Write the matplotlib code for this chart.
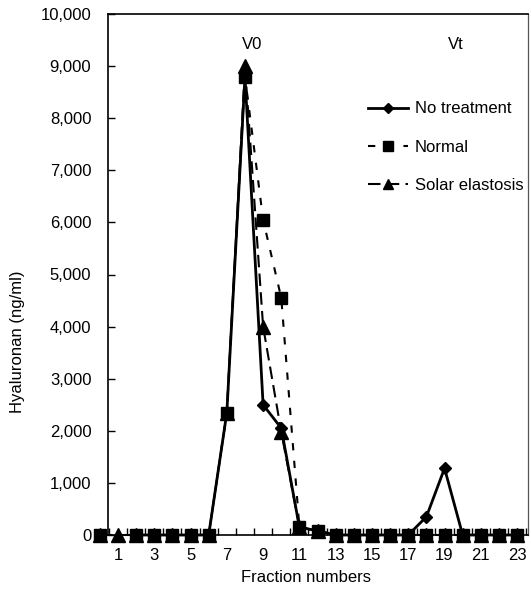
import matplotlib
matplotlib.use("Agg")
import matplotlib.pyplot as plt
import numpy as np
from matplotlib.ticker import FuncFormatter

# fraction numbers 0..23 (ng/ml)
fractions = list(range(0, 24))
no_treatment = [0, np.nan, 0, 0, 0, 0, 0, 2350, 8800, 2500, 2050, 150, 80,
                0, 0, 0, 0, 0, 350, 1280, 0, 0, 0, 0]
normal = [0, np.nan, 0, 0, 0, 0, 0, 2350, 8800, 6050, 4550, 150, 80,
          0, 0, 0, 0, 0, 0, 0, 0, 0, 0, 0]
solar_elastosis = [0, 0, 0, 0, 0, 0, 0, 2350, 9000, 4000, 1980, 150, 80,
                   0, 0, 0, 0, 0, 0, 0, 0, 0, 0, 0]
label_fractions = list(range(1, 24, 2))
y_ticks = list(range(0, 10001, 1000))

plt.rcParams["font.family"] = ["Liberation Sans", "DejaVu Sans"]
plt.rcParams["font.size"] = 12

W, H = 531, 590
fig = plt.figure(figsize=(W / 100, H / 100), dpi=100)
ax = fig.add_axes([108 / W, 1 - 535 / H, (528 - 108) / W, (535 - 14) / H])

ax.plot(fractions, no_treatment, color="black", lw=2, marker="D",
        markersize=6.5, label="No treatment", clip_on=False, zorder=3)
ax.plot(fractions, normal, color="black", lw=1.5, ls=(0, (3.5, 5)), marker="s",
        markersize=9, label="Normal", clip_on=False, zorder=3)
ax.plot(fractions, solar_elastosis, color="black", lw=1.5, ls=(0, (6, 3)),
        marker="^", markersize=9.5, label="Solar elastosis", clip_on=False, zorder=3)

ax.set_xlim(0.45, 23.6)
ax.set_ylim(0, 10000)

# category style axis: ticks between categories, labels on odd fractions
ax.set_xticks(np.arange(0.5, 23.6, 1.0), minor=True)
ax.set_xticks(label_fractions)
ax.set_xticklabels([str(f) for f in label_fractions])
ax.tick_params(axis="x", which="major", length=0, pad=9, labelsize=12)
ax.tick_params(axis="x", which="minor", direction="in", length=5, width=1)

ax.set_yticks(y_ticks)
ax.yaxis.set_major_formatter(FuncFormatter(lambda v, p: f"{int(v):,}"))
ax.tick_params(axis="y", direction="in", length=5, width=1, pad=12, labelsize=12)

for side in ["left", "bottom", "top"]:
    ax.spines[side].set_linewidth(1.2)
ax.spines["right"].set_linewidth(0.9)
ax.spines["right"].set_color("#555555")

ax.text(8.4, 9420, "V0", ha="center", va="center", fontsize=12)
ax.text(19.6, 9420, "Vt", ha="center", va="center", fontsize=12)

ax.legend(loc="upper left", bbox_to_anchor=(360 / W, 1 - 93 / H),
          bbox_transform=fig.transFigure, frameon=False, borderpad=0,
          handlelength=2.4, handletextpad=0.4, labelspacing=1.4, fontsize=12,
          markerscale=0.8)

fig.text(18 / W, 1 - 342 / H, "Hyaluronan (ng/ml)", rotation=90,
         ha="center", va="center", fontsize=12)
fig.text(306 / W, 1 - 578 / H, "Fraction numbers", ha="center", va="center",
         fontsize=12)

fig.savefig("out.png", dpi=100)
